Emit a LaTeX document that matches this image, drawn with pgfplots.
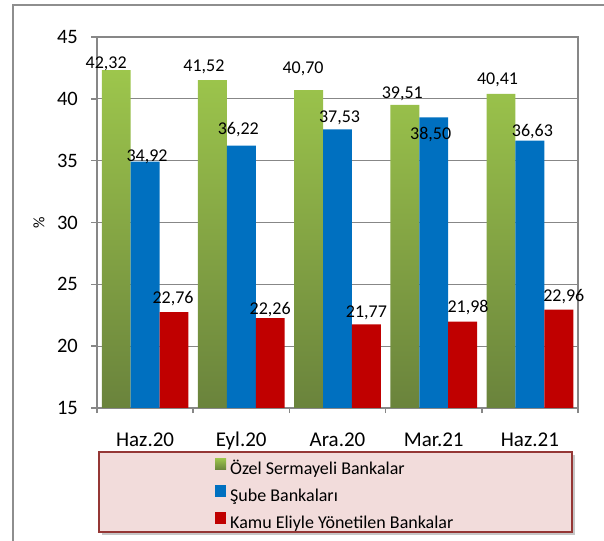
\documentclass[border=0pt]{standalone}
\usepackage{fontspec}
\setmainfont{Carlito}
\usepackage{pgfplots}
\usepackage{pgfplotstable}
\pgfplotsset{compat=1.18}

\definecolor{gtop}{HTML}{9DC64C}
\definecolor{gbot}{HTML}{6A833C}
\definecolor{gleg}{HTML}{8DB53F}
\definecolor{sube}{HTML}{0070C0}
\definecolor{kamu}{HTML}{C00000}
\definecolor{gridc}{HTML}{878787}
\definecolor{framec}{HTML}{8E8E8E}
\definecolor{legfill}{HTML}{F2DCDB}
\definecolor{legdraw}{HTML}{953735}

% x, value, label offsets (bp) from bar top
\pgfplotstableread{
x y dx dy
0 42.32 -10 6
1 41.52 -8.5 13
2 40.70 -5.5 21.5
3 39.51 -2.5 11.5
4 40.41 -3.5 14
}\ozel
\pgfplotstableread{
x y dx dy
0 34.92 2 5
1 36.22 -3 16
2 37.53 2 11.5
3 38.50 -3 -17
4 36.63 2.5 9
}\sube
\pgfplotstableread{
x y dx dy
0 22.76 -1 13
1 22.26 0 9
2 21.77 0 11
3 21.98 5.5 14.5
4 22.96 5 13
}\kamu

\pgfplotsset{
  lbl/.style={
    visualization depends on={\thisrow{dx}\as\dx},
    visualization depends on={\thisrow{dy}\as\dy},
    nodes near coords={\pgfmathprintnumber[fixed,fixed zerofill,precision=2,use comma,assume math mode=true]{\pgfplotspointmeta}},
    nodes near coords style={font=\fontsize{18bp}{20bp}\selectfont, black,
      anchor=center, inner sep=0pt, xshift=\dx bp, yshift=\dy bp},
  },
}

\begin{document}
\begin{tikzpicture}
  \path[use as bounding box] (0,0) rectangle (604bp,541bp);
  \draw[framec, line width=1.2bp] (13bp,-2bp) -- (13bp,536bp) -- (606bp,536bp);
  \fill[black!22] (102bp,6bp) rectangle (575bp,86bp);
  \draw[legdraw, fill=legfill, line width=2bp] (99bp,9bp) rectangle (572bp,89bp);

  \begin{axis}[
      at={(97bp,133bp)}, anchor=south west,
      width=481bp, height=371bp, scale only axis,
      ymin=15, ymax=45, ytick={15,20,...,45},
      xmin=-0.5, xmax=4.5,
      xtick={0,...,4},
      xticklabels={Haz.20,Eyl.20,Ara.20,Mar.21,Haz.21},
      minor xtick={-0.5,0.5,...,4.5},
      ybar=0pt, bar width=28.9bp,
      ymajorgrids, grid style={gridc, line width=1.3bp},
      axis line style={gridc, line width=1.6bp},
      tick style={gridc, line width=1.5bp},
      major x tick style={draw=none},
      tick align=outside, xtick pos=bottom, ytick pos=left,
      major tick length=6bp, minor tick length=5bp,
      /pgf/number format/assume math mode=true,
      yticklabel style={font=\fontsize{20.5bp}{22bp}\selectfont, inner sep=0pt, xshift=-13bp},
      xticklabel style={font=\fontsize{21bp}{24bp}\selectfont, anchor=base, yshift=-32bp},
      ylabel={\%}, ylabel style={font=\fontsize{16bp}{18bp}\selectfont,
        at={(axis description cs:-0.1206,0.5)}, anchor=center},
      legend cell align=left,
      legend style={at={(0.2453,-0.1348)}, anchor=north west, draw=none, fill=none,
        inner sep=0pt, row sep=7bp, font=\fontsize{18bp}{20bp}\selectfont,
        nodes={inner sep=0pt, text height=13bp, text depth=4bp},
        /tikz/every odd column/.append style={column sep=4bp}},
      legend image code/.code={\fill[#1] (0bp,0bp) rectangle (11bp,11.5bp);},
    ]
    \addplot[draw=none, top color=gtop, bottom color=gbot, lbl,
      legend image code/.code={\fill[gleg] (0bp,0bp) rectangle (11bp,11.5bp);}]
      table[x=x, y=y] {\ozel};
    \addplot[draw=none, fill=sube, lbl] table[x=x, y=y] {\sube};
    \addplot[draw=none, fill=kamu, lbl] table[x=x, y=y] {\kamu};
    \legend{Özel Sermayeli Bankalar, Şube Bankaları, Kamu Eliyle Yönetilen Bankalar}
  \end{axis}
\end{tikzpicture}
\end{document}
